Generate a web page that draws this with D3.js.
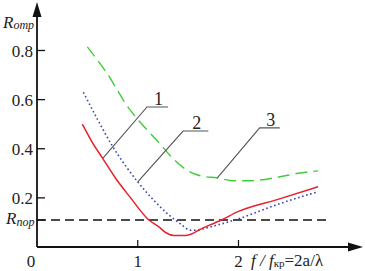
<!DOCTYPE html>
<html><head><meta charset="utf-8">
<script src="https://cdn.jsdelivr.net/npm/d3@7"></script>
</head><body style="margin:0">
<svg id="c" width="365" height="271"></svg>
<script>
// ---- data ----
const redX   = [0.45,0.55,0.65,0.78,0.92,1.11,1.21,1.28,1.36,1.48,1.65,1.83,2.0,2.4,2.79];
const redY   = [0.50,0.425,0.362,0.28,0.205,0.11,0.082,0.058,0.047,0.047,0.078,0.11,0.145,0.195,0.245];
const blueX  = [0.46,0.6,0.75,0.88,1.0,1.16,1.31,1.42,1.53,1.6,1.75,2.0,2.4,2.79];
const blueY  = [0.63,0.52,0.41,0.33,0.265,0.19,0.13,0.095,0.068,0.07,0.085,0.115,0.175,0.225];
const greenX = [0.50,0.69,0.92,1.02,1.21,1.35,1.48,1.62,1.79,1.95,2.13,2.4,2.59,2.79];
const greenY = [0.815,0.71,0.56,0.51,0.425,0.36,0.315,0.29,0.281,0.27,0.27,0.285,0.30,0.31];
const yTicks = [0.2,0.4,0.6,0.8];
const yTickLabels = ["0.2","0.4","0.6","0.8"];
const xTicks = [1,2];
const xTickLabels = ["1","2"];
const rThreshold = 0.11;
const rThresholdEnd = 2.9;
const leaderLabels = ["1","2","3"];
const leaderFrom = [[0.655,0.362],[1.0,0.265],[1.79,0.281]];
const leaderElbow = [[1.092,0.570],[1.45,0.472],[2.21,0.485]];
const leaderEnd = [1.30,1.70,2.41];

const F = "Liberation Serif";
const svg = d3.select("#c");
const x = d3.scaleLinear().domain([0,2]).range([37,238.5]);
const y = d3.scaleLinear().domain([0,0.8]).range([247,50.5]);
const x0 = x(0), y0 = y(0);

// axes
svg.append("line").attr("x1",x0).attr("y1",y0).attr("x2",x0).attr("y2",10).attr("stroke","#111").attr("stroke-width",1.8);
svg.append("path").attr("d",`M${x0},2 L${x0-4.5},17 L${x0+4.5},17 Z`).attr("fill","#111");
svg.append("line").attr("x1",x0).attr("y1",y0).attr("x2",354).attr("y2",y0).attr("stroke","#111").attr("stroke-width",1.8);
svg.append("path").attr("d",`M363,${y0} L348,${y0-4.5} L348,${y0+4.5} Z`).attr("fill","#111");

// y ticks
yTicks.forEach((v,i)=>{
  svg.append("line").attr("x1",x0).attr("x2",x0+8).attr("y1",y(v)).attr("y2",y(v)).attr("stroke","#111").attr("stroke-width",1.3);
  svg.append("text").attr("x",x0-4).attr("y",y(v)+6).attr("text-anchor","end")
    .attr("font-family",F).attr("font-size","17").attr("fill","#222").text(yTickLabels[i]);
});
// x ticks
xTicks.forEach((v,i)=>{
  svg.append("line").attr("x1",x(v)).attr("x2",x(v)).attr("y1",y0).attr("y2",y0-7).attr("stroke","#111").attr("stroke-width",1.2);
  svg.append("text").attr("x",x(v)).attr("y",267).attr("text-anchor","middle")
    .attr("font-family",F).attr("font-size","17").attr("fill","#222").text(xTickLabels[i]);
});
svg.append("text").attr("x",x0-6).attr("y",267).attr("text-anchor","middle")
  .attr("font-family",F).attr("font-size","17").attr("fill","#222").text("0");

// axis titles
const yt = svg.append("text").attr("x",3).attr("y",28).attr("font-family",F).attr("font-style","italic").attr("font-size","17").attr("fill","#222");
yt.append("tspan").text("R");
yt.append("tspan").attr("font-size","12").attr("dy",1).text("отр");

const xt = svg.append("text").attr("x",251).attr("y",266).attr("font-family",F).attr("font-size","17").attr("fill","#222");
xt.append("tspan").attr("font-style","italic").text("f / f");
xt.append("tspan").attr("font-size","11").attr("dy",1).text("кр");
xt.append("tspan").attr("dy",-1).text("=2a/λ");

// threshold
svg.append("line").attr("x1",x0).attr("x2",x(rThresholdEnd)).attr("y1",y(rThreshold)).attr("y2",y(rThreshold))
  .attr("stroke","#111").attr("stroke-width",1.4).attr("stroke-dasharray","9,5");
svg.append("line").attr("x1",x0).attr("x2",x0+8).attr("y1",y(rThreshold)).attr("y2",y(rThreshold)).attr("stroke","#111").attr("stroke-width",1.3);
const rt = svg.append("text").attr("x",6).attr("y",y(rThreshold)+4).attr("font-family",F).attr("font-style","italic").attr("font-size","17").attr("fill","#222");
rt.append("tspan").text("R");
rt.append("tspan").attr("font-size","12").attr("dy",2).text("пор");

// curves
const line = d3.line().x(d=>x(d[0])).y(d=>y(d[1])).curve(d3.curveMonotoneX);
const zip = (a,b)=>a.map((v,i)=>[v,b[i]]);
svg.append("path").attr("d",line(zip(greenX,greenY))).attr("fill","none").attr("stroke","#3fcc3a").attr("stroke-width",1.4).attr("stroke-dasharray","12,6");
svg.append("path").attr("d",line(zip(blueX,blueY))).attr("fill","none").attr("stroke","#3a46b0").attr("stroke-width",1.6).attr("stroke-dasharray","1.6,2.6");
svg.append("path").attr("d",line(zip(redX,redY))).attr("fill","none").attr("stroke","#e8202a").attr("stroke-width",1.5);

// leaders
leaderLabels.forEach((lab,i)=>{
  const [ax,ay] = leaderFrom[i], [ex,ey] = leaderElbow[i];
  svg.append("path").attr("d",`M${x(ax)},${y(ay)} L${x(ex)},${y(ey)} L${x(leaderEnd[i])},${y(ey)}`)
    .attr("fill","none").attr("stroke","#555").attr("stroke-width",1.1);
  svg.append("text").attr("x",(x(ex)+x(leaderEnd[i]))/2+1).attr("y",y(ey)-2).attr("text-anchor","middle")
    .attr("font-family",F).attr("font-size","18").attr("fill","#222").text(lab);
});
</script></body></html>
